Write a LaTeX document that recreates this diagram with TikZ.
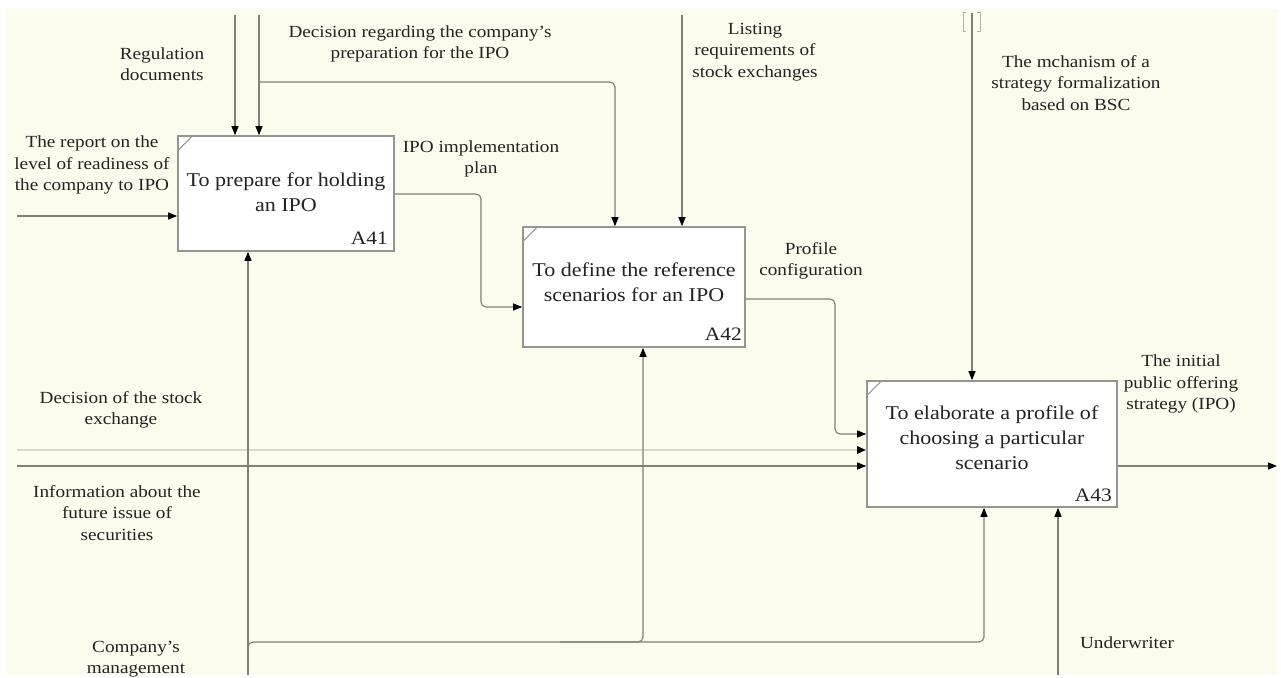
\documentclass[tikz,border=0pt]{standalone}
\usepackage{fontspec}
\setmainfont{Liberation Serif}[FakeStretch=1.13]
\usetikzlibrary{arrows.meta}
\definecolor{cream}{RGB}{252,252,238}
\definecolor{linegray}{RGB}{128,128,118}
\definecolor{lightline}{RGB}{218,218,204}
\definecolor{boxgray}{RGB}{150,150,145}
\definecolor{txt}{RGB}{35,35,35}
\begin{document}
\begin{tikzpicture}[x=1pt,y=-1pt,
  conn/.style={draw=linegray, line width=1.1pt, -{Triangle[length=9pt,width=7pt,color=black]}, rounded corners=5pt},
  proc/.style={draw=boxgray, line width=1.6pt, fill=white, inner sep=0pt},
  lbl/.style={align=center, inner sep=0pt, text=txt, font=\fontsize{17}{21.5}\selectfont},
  ptext/.style={align=center, inner sep=0pt, text=txt, font=\fontsize{19.5}{25}\selectfont},
  pid/.style={inner sep=0pt, text=txt, font=\fontsize{19}{22}\selectfont, anchor=south east},
  tunnel/.style={draw=linegray!60, line width=1pt}]
\useasboundingbox (0,0) rectangle (1281,677);
\fill[white] (0,0) rectangle (1281,677);
\fill[cream] (7,9) rectangle (1277,675);

% activity boxes
\node[proc, minimum width=216pt, minimum height=115pt] (a41) at (286,193.5) {};
\node[proc, minimum width=222pt, minimum height=120pt] (a42) at (634,287) {};
\node[proc, minimum width=250pt, minimum height=126pt] (a43) at (992,444) {};
\draw[boxgray, line width=1pt] (a41.north west) ++(0,16) -- ++(16,-16);
\draw[boxgray, line width=1pt] (a42.north west) ++(0,16) -- ++(16,-16);
\draw[boxgray, line width=1pt] (a43.north west) ++(0,16) -- ++(16,-16);
\node[ptext] (t41) at (286,192) {To prepare for holding\\an IPO};
\node[ptext] (t42) at (634,282) {To define the reference\\scenarios for an IPO};
\node[ptext] (t43) at (992,438) {To elaborate a profile of\\choosing a particular\\scenario};
\node[pid] (n41) at (388,245) {A41};
\node[pid] (n42) at (742,341) {A42};
\node[pid] (n43) at (1112,502) {A43};

% controls from the top
\coordinate (regT) at (235,15);
\draw[conn] (regT) -- (regT |- a41.north);
\coordinate (decT) at (259,15);
\draw[conn] (decT) -- (decT |- a41.north);
\coordinate (decJ) at (259,82);
\coordinate (decX) at (615,82);
\draw[conn] (decJ) -- (decX) -- (decX |- a42.north);
\coordinate (lstT) at (682,15);
\draw[conn] (lstT) -- (lstT |- a42.north);
\coordinate (mecT) at (972,13);
\draw[conn] (mecT) -- (mecT |- a43.north);
\draw[tunnel] (966,13) -- (963,13) -- (963,32) -- (966,32);
\draw[tunnel] (977,13) -- (980,13) -- (980,32) -- (977,32);

% inputs
\coordinate (repL) at (17,216);
\draw[conn] (repL) -- (repL -| a41.west);
\coordinate (plA) at (481,194);
\coordinate (plB) at (481,307);
\draw[conn] (a41.east |- plA) -- (plA) -- (plB) -- (plB -| a42.west);
\coordinate (pcA) at (835,299);
\coordinate (pcB) at (835,434);
\draw[conn] (a42.east |- pcA) -- (pcA) -- (pcB) -- (pcB -| a43.west);
\coordinate (dseL) at (17,450);
\draw[conn, draw=lightline, line width=2.6pt] (dseL) -- (dseL -| a43.west);
\coordinate (infL) at (17,466);
\draw[conn] (infL) -- (infL -| a43.west);

% output
\coordinate (outR) at (1277,466);
\draw[conn] (a43.east |- outR) -- (outR);

% mechanisms from the bottom
\coordinate (cmB) at (248,675);
\draw[conn] (cmB) -- (cmB |- a41.south);
\coordinate (cmS) at (248,660);
\coordinate (cmR) at (984,642);
\draw[conn] (cmS) |- (cmR) -- (cmR |- a43.south);
\coordinate (cmJ) at (560,642);
\coordinate (cmM) at (643,642);
\draw[conn] (cmJ) -| (cmM |- a42.south);
\coordinate (uwB) at (1058,675);
\draw[conn] (uwB) -- (uwB |- a43.south);

% labels
\node[lbl] (lreg) at (162,64) {Regulation\\documents};
\node[lbl] (ldec) at (420,44) {Decision regarding the company's\\preparation for the IPO};
\node[lbl] (lrep) at (92,165) {The report on the\\level of readiness of\\the company to IPO};
\node[lbl] (lplan) at (481,159) {IPO implementation\\plan};
\node[lbl] (llst) at (755,52) {Listing\\requirements of\\stock exchanges};
\node[lbl] (lmec) at (1076,83) {The mchanism of a\\strategy formalization\\based on BSC};
\node[lbl] (lpc) at (811,261) {Profile\\configuration};
\node[lbl] (ldse) at (121,410) {Decision of the stock\\exchange};
\node[lbl] (linf) at (117,513) {Information about the\\future issue of\\securities};
\node[lbl] (lout) at (1181,384) {The initial\\public offering\\strategy (IPO)};
\node[lbl] (lcm) at (136,659) {Company's\\management};
\node[lbl] (luw) at (1127,643) {Underwriter};
\end{tikzpicture}
\end{document}
